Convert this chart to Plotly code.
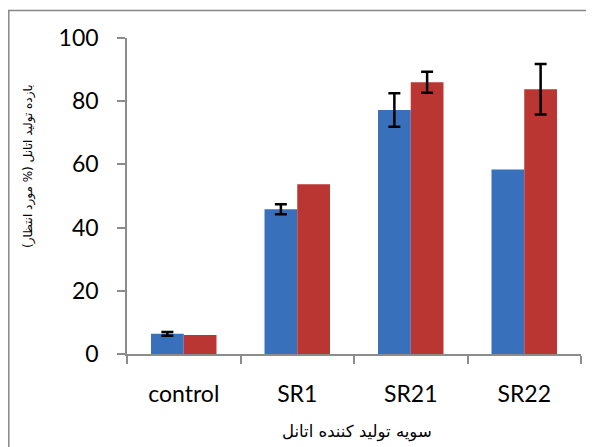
import plotly.graph_objects as go

categories = ["control", "SR1", "SR21", "SR22"]
blue_vals = [6.4, 45.8, 77.2, 58.4]
blue_err = [0.6, 1.6, 5.3, None]
red_vals = [6.0, 53.7, 86.0, 83.8]
red_err = [None, None, 3.3, 8.0]
y_ticks = [0, 20, 40, 60, 80, 100]
x_title = "سویه تولید کننده اتانل"
y_title = "بازده تولید اتانل (% مورد انتظار)"

W, H = 594, 447
OFF = 8  # page body margin offset
L, R, T, B = 127 - OFF, 13 + OFF, 38 - OFF, 93 + OFF
pw, ph = W - L - R, H - T - B

def px_x(p):
    return (p - OFF - L) / pw

def px_y(p):
    return (H - B - (p - OFF)) / ph

err_style = dict(type="data", thickness=2.5, width=6, color="black")
colors = {"b": "#3870BB", "r": "#BA3632"}

fig = go.Figure()
for key, vals, errs in (("b", blue_vals, blue_err), ("r", red_vals, red_err)):
    fig.add_trace(go.Bar(
        x=categories, y=vals, offsetgroup=key,
        marker=dict(color=colors[key], line=dict(width=0)), showlegend=False))
for key, vals, errs in (("b", blue_vals, blue_err), ("r", red_vals, red_err)):
    idx = [i for i, e in enumerate(errs) if e is not None]
    fig.add_trace(go.Bar(
        x=[categories[i] for i in idx], y=[vals[i] for i in idx], offsetgroup=key,
        marker=dict(color="rgba(0,0,0,0)", line=dict(width=0)),
        error_y=dict(array=[errs[i] for i in idx], visible=True, **err_style),
        showlegend=False, hoverinfo="skip"))

axis_color = "#8C8C8C"
frame = dict(color="#888888", width=1.5)
fig.update_layout(
    width=W, height=H,
    margin=dict(l=L, r=R, t=T, b=B, autoexpand=False),
    paper_bgcolor="white", plot_bgcolor="white",
    barmode="group", bargap=0.423, bargroupgap=0,
    font=dict(family="Lato", size=23, color="black"),
    xaxis=dict(
        showline=True, linecolor=axis_color, linewidth=1.5, automargin=False,
        ticks="outside", tickson="boundaries", ticklen=8, tickcolor=axis_color,
        tickwidth=1.5, showgrid=False, ticklabelstandoff=19,
        tickfont=dict(family="Lato", size=23),
    ),
    yaxis=dict(
        range=[0, 100], tickvals=y_ticks, showline=True, linecolor=axis_color,
        linewidth=1.5, ticks="outside", ticklen=8, tickcolor=axis_color, tickwidth=1.5,
        showgrid=False, zeroline=False, ticklabelstandoff=14, automargin=False,
        tickfont=dict(family="Lato", size=23),
    ),
    shapes=[
        dict(type="line", xref="paper", yref="paper",
             x0=px_x(8.8), x1=px_x(8.8), y0=px_y(10), y1=px_y(460), line=frame),
        dict(type="line", xref="paper", yref="paper",
             x0=px_x(8), x1=px_x(610), y0=px_y(10.5), y1=px_y(10.5), line=frame),
    ],
    annotations=[
        dict(text=x_title, xref="paper", yref="paper", x=px_x(357), y=px_y(432),
             xanchor="center", yanchor="middle", showarrow=False,
             font=dict(family="DejaVu Sans", size=16.5, color="black")),
        dict(text=y_title, xref="paper", yref="paper", x=px_x(28), y=px_y(166),
             xanchor="center", yanchor="middle", showarrow=False, textangle=-90,
             font=dict(family="DejaVu Sans", size=12, color="black")),
    ],
)

fig.write_html("out.html")
